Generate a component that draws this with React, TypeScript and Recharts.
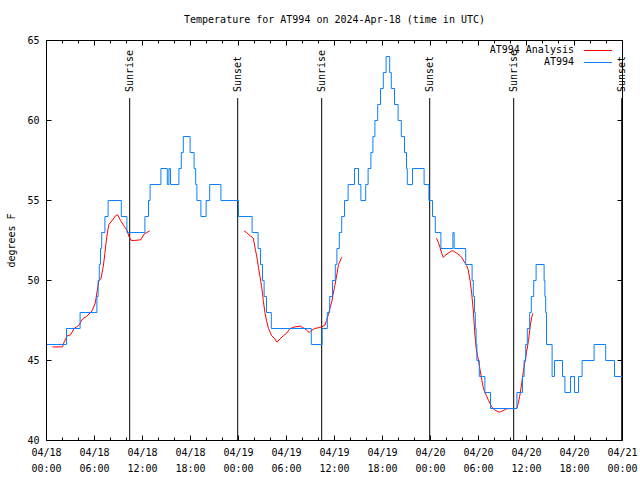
import { LineChart, Line, XAxis, YAxis, ReferenceLine, Label } from "recharts"

const FONT = "'DejaVu Sans Mono', monospace"
const BLUE = "#0a80ff"
const RED = "#ff0000"

// hours since 2024-04-18 00:00 UTC, temperature in F
// station obs (value holds until the next entry)
const obsSteps: [number, number][] = [
  [0, 46], [2.5, 47], [4.2, 48], [6.3, 49], [6.45, 50], [6.6, 51], [6.75, 52],
  [6.9, 53], [7.3, 54], [7.7, 55], [9.35, 54], [10.05, 53], [12.3, 54],
  [12.75, 55], [12.95, 56], [14.3, 57], [15.1, 56], [15.3, 57], [15.5, 56],
  [16.55, 57], [16.85, 58], [17.1, 59], [17.95, 58], [18.45, 57], [18.65, 56],
  [18.8, 55], [19.3, 54], [19.95, 55], [20.4, 56], [21.8, 55], [24.0, 54],
  [25.7, 53], [26.45, 52], [26.75, 51], [27.0, 50], [27.2, 49], [27.5, 48],
  [28.1, 47], [33.1, 46], [34.45, 47], [35.1, 48], [35.4, 49], [35.75, 50],
  [36.1, 51], [36.3, 52], [36.6, 53], [36.9, 54], [37.25, 55], [37.7, 56],
  [38.5, 57], [39.0, 56], [39.3, 55], [39.9, 56], [40.2, 57], [40.55, 58],
  [40.8, 59], [41.05, 60], [41.4, 61], [41.75, 62], [42.1, 63], [42.45, 64],
  [42.9, 63], [43.1, 62], [43.5, 61], [43.95, 60], [44.35, 59], [44.75, 58],
  [45.0, 57], [45.1, 56], [45.75, 57], [47.2, 56], [47.8, 55], [48.25, 54],
  [48.6, 53], [49.3, 52], [50.8, 53], [50.95, 52], [52.4, 51], [53.2, 50],
  [53.35, 49], [53.5, 48], [53.6, 47], [53.7, 46], [53.8, 45], [54.1, 44],
  [54.8, 43], [55.5, 42], [58.8, 43], [59.5, 44], [59.7, 45], [59.9, 46],
  [60.1, 47], [60.4, 48], [60.6, 49], [60.9, 50], [61.2, 51], [62.2, 50],
  [62.3, 49], [62.4, 48], [62.5, 46], [63.2, 44], [63.5, 45], [64.5, 44],
  [64.8, 43], [65.5, 44], [66.0, 43], [66.5, 44], [66.95, 45], [68.45, 46],
  [69.9, 45], [71.0, 44], [72, 44],
]

// analysis runs, one per day
const analysisDay1: [number, number][] = [
  [0.75, 45.85], [2.0, 45.85], [2.2, 46.15], [2.6, 46.55], [3.0, 46.6],
  [3.45, 47.0], [4.05, 47.2], [4.5, 47.6], [5.0, 47.75], [5.7, 48.1],
  [6.1, 48.6], [6.35, 49.4], [6.55, 50.0], [6.8, 50.1], [7.1, 50.9],
  [7.3, 51.7], [7.45, 52.4], [7.65, 53.1], [7.8, 53.5], [8.2, 53.75],
  [8.65, 54.05], [8.9, 54.1], [9.25, 53.75], [9.7, 53.4], [10.1, 53.1],
  [10.3, 52.75], [10.6, 52.5], [11.0, 52.5], [11.8, 52.55], [12.2, 52.9],
  [12.9, 53.1],
]
const analysisDay2: [number, number][] = [
  [24.7, 53.1], [25.0, 53.0], [25.45, 52.8], [25.85, 52.65], [26.05, 52.1],
  [26.3, 51.45], [26.5, 50.8], [26.7, 50.2], [26.9, 49.6], [27.1, 48.75],
  [27.3, 48.0], [27.5, 47.5], [27.75, 47.0], [28.15, 46.55], [28.55, 46.35],
  [28.8, 46.15], [29.2, 46.35], [29.6, 46.55], [30.0, 46.7], [30.45, 47.0],
  [31.05, 47.1], [31.7, 47.15], [32.1, 47.05], [32.5, 46.9], [32.85, 46.75],
  [33.15, 46.9], [33.55, 47.0], [34.0, 47.05], [34.4, 47.1], [34.8, 47.2],
  [35.0, 47.5], [35.25, 47.9], [35.45, 48.3], [35.65, 48.65], [35.85, 49.2],
  [36.05, 49.7], [36.3, 50.4], [36.5, 51.0], [36.9, 51.45],
]
const analysisDay3: [number, number][] = [
  [48.75, 52.65], [49.0, 52.35], [49.2, 52.05], [49.4, 51.7], [49.6, 51.45],
  [49.8, 51.55], [50.2, 51.7], [50.65, 51.85], [50.85, 51.85], [51.3, 51.7],
  [51.7, 51.55], [51.9, 51.45], [52.3, 51.1], [52.5, 50.95], [52.7, 50.7],
  [52.95, 50.0], [53.15, 49.2], [53.35, 48.1], [53.55, 46.6], [53.75, 45.6],
  [54.0, 45.0], [54.2, 44.4], [54.4, 43.8], [54.6, 43.3], [54.8, 43.0],
  [55.0, 42.8], [55.25, 42.5], [55.45, 42.3], [55.65, 42.1], [56.05, 41.9],
  [56.6, 41.77], [57.0, 41.85], [57.5, 41.98], [58.2, 42.0], [58.8, 42.0],
  [59.0, 42.4], [59.2, 42.9], [59.4, 43.6], [59.6, 44.3], [59.8, 44.9],
  [60.0, 45.5], [60.25, 46.25], [60.45, 47.1], [60.65, 47.7], [60.8, 47.95],
]

const sunHours = [10.4, 23.9, 34.4, 47.9, 58.4, 71.9]
const sunLabels = ["Sunrise", "Sunset", "Sunrise", "Sunset", "Sunrise", "Sunset"]
const sunLineTop = 61.4

const hourTicks = [
  0, 2, 4, 6, 8, 10, 12, 14, 16, 18, 20, 22, 24, 26, 28, 30, 32, 34, 36,
  38, 40, 42, 44, 46, 48, 50, 52, 54, 56, 58, 60, 62, 64, 66, 68, 70, 72,
]
const tickDates = ["04/18", "04/18", "04/18", "04/18", "04/19", "04/19", "04/19", "04/19", "04/20", "04/20", "04/20", "04/20", "04/21"]
const tickTimes = ["00:00", "06:00", "12:00", "18:00", "00:00", "06:00", "12:00", "18:00", "00:00", "06:00", "12:00", "18:00", "00:00"]
const tempTicks = [40, 45, 50, 55, 60, 65]

const toRows = (pts: [number, number][]) => pts.map(([h, t]) => ({ h, t }))

function BottomTick({ x, y, payload }: any) {
  const v = payload.value
  const major = v % 6 === 0
  const i = v / 6
  return (
    <g>
      <line x1={x} x2={x} y1={y} y2={y - (major ? 5 : 3)} stroke="#000" />
      {major && (
        <text x={x} y={y} textAnchor="middle" fontFamily={FONT} fontSize={10} fill="#000">
          <tspan x={x} dy={15.5}>{tickDates[i]}</tspan>
          <tspan x={x} dy={16}>{tickTimes[i]}</tspan>
        </text>
      )}
    </g>
  )
}

function TopTick({ x, y, payload }: any) {
  const major = payload.value % 6 === 0
  return <line x1={x} x2={x} y1={y} y2={y + (major ? 5 : 3)} stroke="#000" />
}

function LeftTick({ x, y, payload }: any) {
  return (
    <g>
      <line x1={x} x2={x + 5} y1={y} y2={y} stroke="#000" />
      <text x={x - 7} y={y} dy={3.5} textAnchor="end" fontFamily={FONT} fontSize={10} fill="#000">
        {payload.value}
      </text>
    </g>
  )
}

function RightTick({ x, y }: any) {
  return <line x1={x} x2={x - 5} y1={y} y2={y} stroke="#000" />
}

function SunLabel({ viewBox, text }: any) {
  const x = viewBox.x
  const y = viewBox.y - 6
  return (
    <text
      x={x}
      y={y}
      transform={`rotate(-90 ${x} ${y})`}
      dominantBaseline="central"
      fontFamily={FONT}
      fontSize={10}
      fill="#000"
    >
      {text}
    </text>
  )
}

const legendItems = [
  { name: "AT994 Analysis", color: RED },
  { name: "AT994", color: BLUE },
]

export default function App() {
  return (
    <div style={{ position: "absolute", left: 0, top: 0, width: 640, height: 480, background: "#fff", fontFamily: FONT }}>
      <div style={{ position: "absolute", left: 46.5, width: 576, top: 14, textAlign: "center", fontSize: 10, lineHeight: "12px" }}>
        Temperature for AT994 on 2024-Apr-18 (time in UTC)
      </div>
      <LineChart width={640} height={480} margin={{ top: 0, right: 0, bottom: 0, left: 0 }}>
        <XAxis
          xAxisId="b"
          dataKey="h"
          type="number"
          domain={[0, 72]}
          ticks={hourTicks}
          interval={0}
          allowDataOverflow
          height={39.5}
          tickSize={0}
          tickMargin={0}
          tickLine={false}
          axisLine={{ stroke: "#000" }}
          tick={<BottomTick />}
        />
        <XAxis
          xAxisId="t"
          orientation="top"
          dataKey="h"
          type="number"
          domain={[0, 72]}
          ticks={hourTicks}
          interval={0}
          allowDataOverflow
          height={40.5}
          tickSize={0}
          tickMargin={0}
          tickLine={false}
          axisLine={{ stroke: "#000" }}
          tick={<TopTick />}
        />
        <YAxis
          yAxisId="l"
          type="number"
          domain={[40, 65]}
          ticks={tempTicks}
          interval={0}
          allowDataOverflow
          width={46.5}
          tickSize={0}
          tickMargin={0}
          tickLine={false}
          axisLine={{ stroke: "#000" }}
          tick={<LeftTick />}
        >
          <Label
            value="degrees F"
            angle={-90}
            position="insideLeft"
            offset={11}
            style={{ textAnchor: "middle", fontFamily: FONT, fontSize: 10, fill: "#000" }}
          />
        </YAxis>
        <YAxis
          yAxisId="r"
          orientation="right"
          type="number"
          domain={[40, 65]}
          ticks={tempTicks}
          interval={0}
          allowDataOverflow
          width={17.5}
          tickSize={0}
          tickMargin={0}
          tickLine={false}
          axisLine={{ stroke: "#000" }}
          tick={<RightTick />}
        />
        {sunHours.map((h, i) => (
          <ReferenceLine
            key={i}
            xAxisId="b"
            yAxisId="l"
            segment={[{ x: h, y: sunLineTop }, { x: h, y: 40 }]}
            stroke="#000"
            strokeWidth={1}
            ifOverflow="visible"
            label={<SunLabel text={sunLabels[i]} />}
          />
        ))}
        {[analysisDay1, analysisDay2, analysisDay3].map((seg, i) => (
          <Line
            key={i}
            xAxisId="b"
            yAxisId="l"
            data={toRows(seg)}
            dataKey="t"
            type="linear"
            stroke={RED}
            strokeWidth={1}
            dot={false}
            activeDot={false}
            isAnimationActive={false}
          />
        ))}
        <Line
          xAxisId="b"
          yAxisId="l"
          data={toRows(obsSteps)}
          dataKey="t"
          type="stepAfter"
          stroke={BLUE}
          strokeWidth={1}
          dot={false}
          activeDot={false}
          isAnimationActive={false}
        />
      </LineChart>
      {legendItems.map((item, i) => (
        <div key={item.name} style={{ position: "absolute", top: 44 + i * 12, left: 400, width: 212, height: 12, fontSize: 10, lineHeight: "12px" }}>
          <span style={{ position: "absolute", right: 38, top: 0, whiteSpace: "nowrap" }}>{item.name}</span>
          <span style={{ position: "absolute", right: 0, width: 28, top: 6, borderTop: `1px solid ${item.color}` }} />
        </div>
      ))}
    </div>
  )
}
